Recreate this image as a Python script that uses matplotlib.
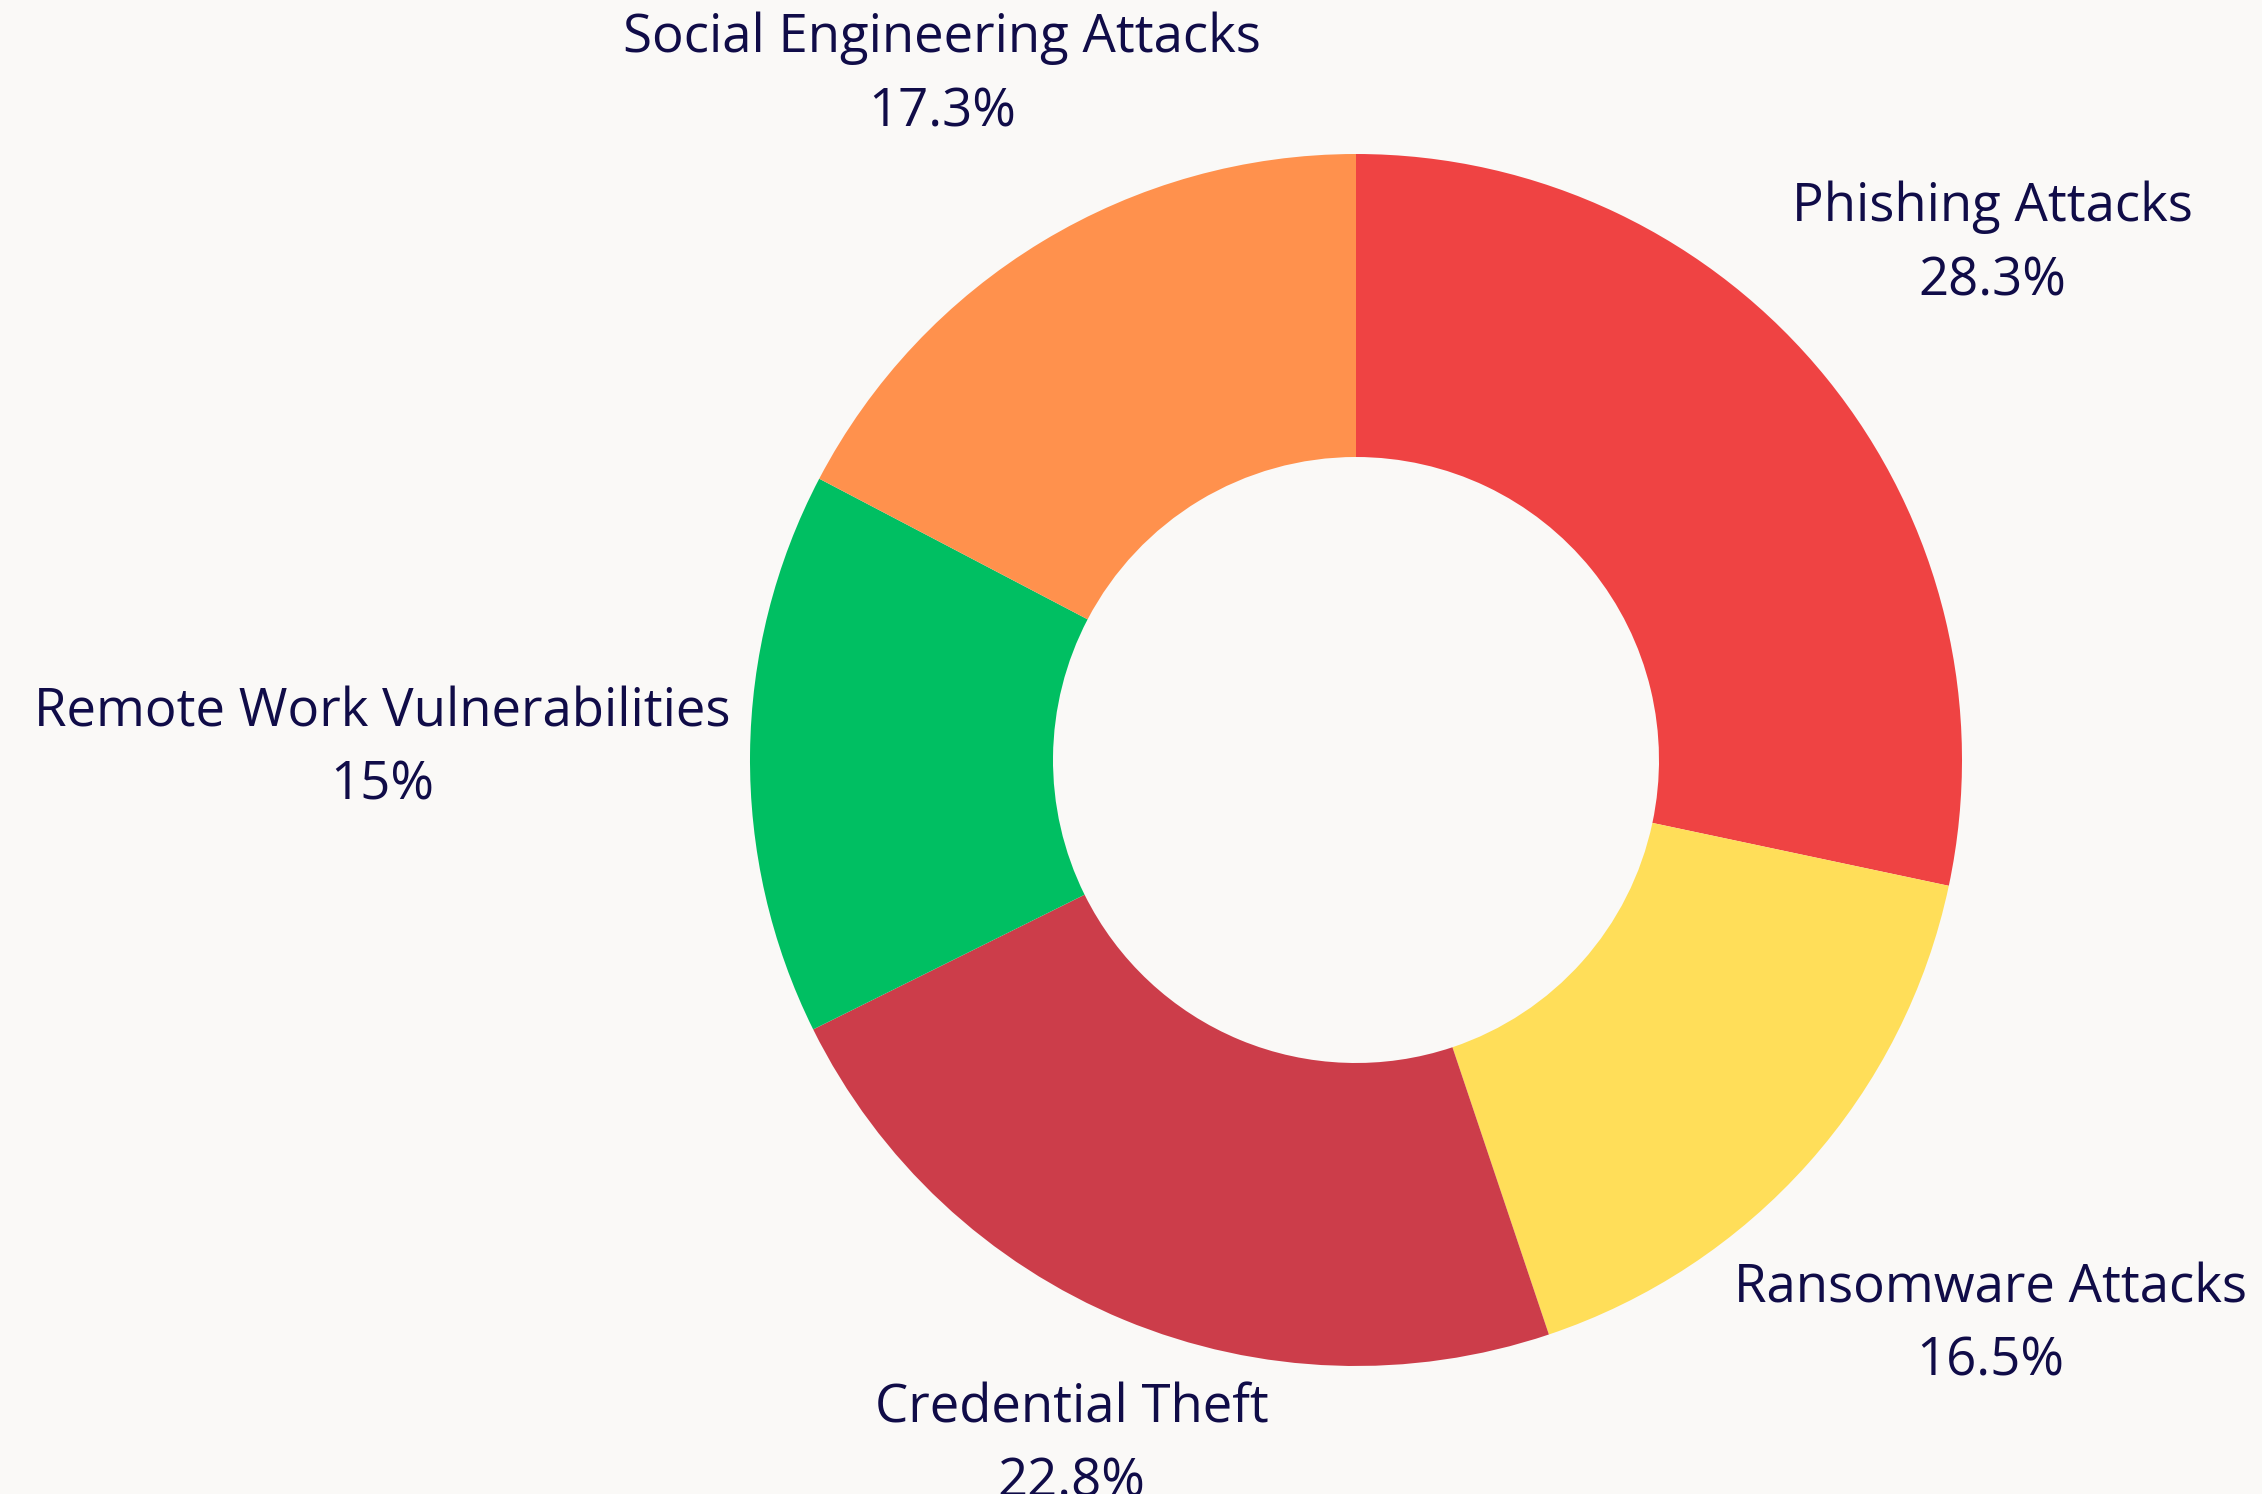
import numpy as np
import matplotlib.pyplot as plt

labels = ['Phishing Attacks', 'Ransomware Attacks', 'Credential Theft',
          'Remote Work Vulnerabilities', 'Social Engineering Attacks']
values = [28.3, 16.5, 22.8, 15, 17.3]
colors = ['#EF4343', '#FFDE59', '#CC3D4A', '#00BF62', '#FF914D']

bg = '#FAF9F7'
txt = '#100C48'
plt.rcParams['font.family'] = ['Open Sans', 'DejaVu Sans']

fig = plt.figure(figsize=(22.62, 14.94), dpi=100, facecolor=bg)
ax = fig.add_axes([0, 0, 1, 1])
ax.set_facecolor(bg)
# one data unit = one pixel, donut centre at (0, 0)
ax.set_xlim(-1356, 906)
ax.set_ylim(-734, 760)
ax.set_aspect('equal')
ax.axis('off')

R = 606
wedges, _ = ax.pie(values, colors=colors, radius=R, startangle=90,
                   counterclock=False, wedgeprops=dict(width=R / 2, linewidth=0))
ax.set_xlim(-1356, 906)
ax.set_ylim(-734, 760)

fig.canvas.draw()
renderer = fig.canvas.get_renderer()
gap = 22
for w, lab, v in zip(wedges, labels, values):
    mid = np.deg2rad((w.theta1 + w.theta2) / 2)
    c, s = np.cos(mid), np.sin(mid)
    t = ax.text(0, 0, f'{lab}\n{v:g}%', ha='center', va='center',
                fontsize=38, color=txt, linespacing=1.5)
    bb = t.get_window_extent(renderer)
    hw, hh = bb.width / 2, bb.height / 2
    # put the box centre on the mid-angle ray, nearest corner just off the ring
    cx = -np.sign(c) * hw if abs(c) > 1e-3 else 0
    cy = -np.sign(s) * hh if abs(s) > 1e-3 else 0
    b = c * cx + s * cy
    d = (hw if cx else 0) ** 2 + (hh if cy else 0) ** 2 - (R + gap) ** 2
    r = -b + np.sqrt(b * b - d)
    t.set_position((r * c, r * s))

fig.savefig('out.png', dpi=100, facecolor=bg)
